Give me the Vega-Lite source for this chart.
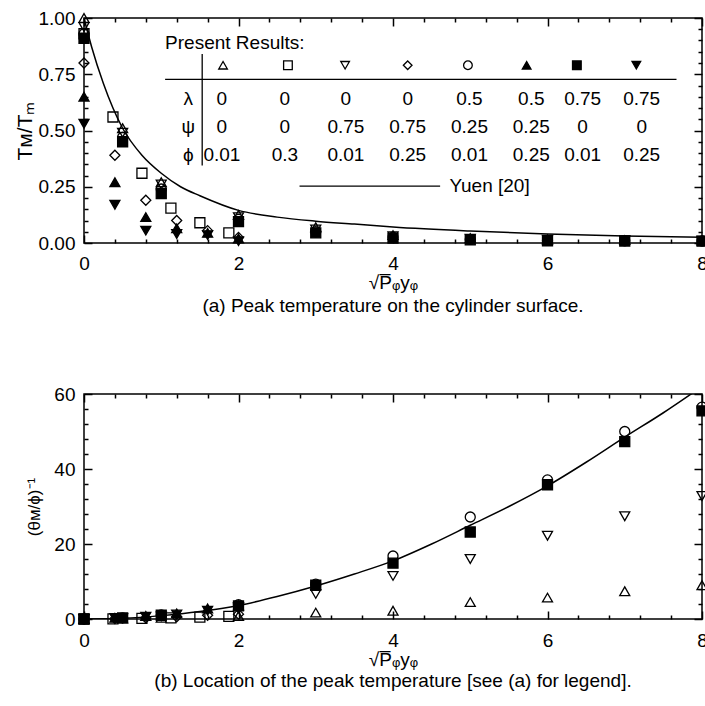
{
  "$schema": "https://vega.github.io/schema/vega-lite/v6.json",
  "autosize": {"type": "pad"},
  "padding": {"left": 13, "top": 8, "right": 0, "bottom": 0},
  "background": "white",
  "datasets": {
    "yuenA": [
      {"x": 0, "y": 1.0}, {"x": 0.1, "y": 0.87}, {"x": 0.25, "y": 0.71}, {"x": 0.5, "y": 0.51},
      {"x": 0.75, "y": 0.39}, {"x": 1, "y": 0.31}, {"x": 1.25, "y": 0.25}, {"x": 1.5, "y": 0.21},
      {"x": 2, "y": 0.145}, {"x": 2.5, "y": 0.115}, {"x": 3, "y": 0.097}, {"x": 3.5, "y": 0.084},
      {"x": 4, "y": 0.071}, {"x": 5, "y": 0.053}, {"x": 6, "y": 0.04}, {"x": 7, "y": 0.031}, {"x": 8, "y": 0.025}
    ],
    "yuenB": [
      {"x": 0, "y": 0}, {"x": 0.5, "y": 0.2}, {"x": 1, "y": 0.9}, {"x": 1.5, "y": 2.0},
      {"x": 2, "y": 3.6}, {"x": 2.5, "y": 6.0}, {"x": 3, "y": 8.8}, {"x": 3.5, "y": 12.0},
      {"x": 4, "y": 15.5}, {"x": 4.5, "y": 20.0}, {"x": 5, "y": 25.0}, {"x": 5.5, "y": 30.0},
      {"x": 6, "y": 35.5}, {"x": 6.5, "y": 41.8}, {"x": 7, "y": 48.5}, {"x": 7.5, "y": 55.0}, {"x": 8, "y": 62.0}
    ],
    "pointsA": [
      {"case": "c1", "x": 0, "y": 1.0}, {"case": "c1", "x": 0.5, "y": 0.51}, {"case": "c1", "x": 1, "y": 0.27}, {"case": "c1", "x": 2, "y": 0.125}, {"case": "c1", "x": 3, "y": 0.07}, {"case": "c1", "x": 4, "y": 0.035}, {"case": "c1", "x": 5, "y": 0.022}, {"case": "c1", "x": 6, "y": 0.016}, {"case": "c1", "x": 7, "y": 0.013}, {"case": "c1", "x": 8, "y": 0.011},
      {"case": "c3", "x": 0, "y": 0.96}, {"case": "c3", "x": 0.5, "y": 0.49}, {"case": "c3", "x": 1, "y": 0.26}, {"case": "c3", "x": 2, "y": 0.115}, {"case": "c3", "x": 3, "y": 0.06}, {"case": "c3", "x": 4, "y": 0.03}, {"case": "c3", "x": 5, "y": 0.019}, {"case": "c3", "x": 6, "y": 0.014}, {"case": "c3", "x": 7, "y": 0.012}, {"case": "c3", "x": 8, "y": 0.01},
      {"case": "c5", "x": 0, "y": 0.93}, {"case": "c5", "x": 0.5, "y": 0.47}, {"case": "c5", "x": 1, "y": 0.24}, {"case": "c5", "x": 2, "y": 0.105}, {"case": "c5", "x": 3, "y": 0.05}, {"case": "c5", "x": 4, "y": 0.026}, {"case": "c5", "x": 5, "y": 0.016}, {"case": "c5", "x": 6, "y": 0.012}, {"case": "c5", "x": 7, "y": 0.01}, {"case": "c5", "x": 8, "y": 0.009},
      {"case": "c7", "x": 0, "y": 0.91}, {"case": "c7", "x": 0.5, "y": 0.45}, {"case": "c7", "x": 1, "y": 0.22}, {"case": "c7", "x": 2, "y": 0.095}, {"case": "c7", "x": 3, "y": 0.045}, {"case": "c7", "x": 4, "y": 0.022}, {"case": "c7", "x": 5, "y": 0.014}, {"case": "c7", "x": 6, "y": 0.01}, {"case": "c7", "x": 7, "y": 0.009}, {"case": "c7", "x": 8, "y": 0.008},
      {"case": "c2", "x": 0, "y": 0.93}, {"case": "c2", "x": 0.375, "y": 0.56}, {"case": "c2", "x": 0.75, "y": 0.31}, {"case": "c2", "x": 1.125, "y": 0.155}, {"case": "c2", "x": 1.5, "y": 0.09}, {"case": "c2", "x": 1.875, "y": 0.045},
      {"case": "c4", "x": 0, "y": 0.8}, {"case": "c4", "x": 0.4, "y": 0.39}, {"case": "c4", "x": 0.8, "y": 0.19}, {"case": "c4", "x": 1.2, "y": 0.1}, {"case": "c4", "x": 1.6, "y": 0.055}, {"case": "c4", "x": 2, "y": 0.025},
      {"case": "c6", "x": 0, "y": 0.65}, {"case": "c6", "x": 0.4, "y": 0.27}, {"case": "c6", "x": 0.8, "y": 0.115}, {"case": "c6", "x": 1.2, "y": 0.065}, {"case": "c6", "x": 1.6, "y": 0.045}, {"case": "c6", "x": 2, "y": 0.02},
      {"case": "c8", "x": 0, "y": 0.53}, {"case": "c8", "x": 0.4, "y": 0.17}, {"case": "c8", "x": 0.8, "y": 0.055}, {"case": "c8", "x": 1.2, "y": 0.04}, {"case": "c8", "x": 1.6, "y": 0.035}, {"case": "c8", "x": 2, "y": 0.008}
    ],
    "pointsB": [
      {"case": "c1", "x": 0, "y": 0}, {"case": "c1", "x": 0.5, "y": 0.1}, {"case": "c1", "x": 1, "y": 0.3}, {"case": "c1", "x": 2, "y": 0.8}, {"case": "c1", "x": 3, "y": 1.7}, {"case": "c1", "x": 4, "y": 2.2}, {"case": "c1", "x": 5, "y": 4.5}, {"case": "c1", "x": 6, "y": 5.7}, {"case": "c1", "x": 7, "y": 7.4}, {"case": "c1", "x": 8, "y": 9.0},
      {"case": "c3", "x": 0, "y": 0}, {"case": "c3", "x": 0.5, "y": 0.2}, {"case": "c3", "x": 1, "y": 0.7}, {"case": "c3", "x": 2, "y": 2.8}, {"case": "c3", "x": 3, "y": 6.7}, {"case": "c3", "x": 4, "y": 11.5}, {"case": "c3", "x": 5, "y": 16.0}, {"case": "c3", "x": 6, "y": 22.2}, {"case": "c3", "x": 7, "y": 27.4}, {"case": "c3", "x": 8, "y": 32.8},
      {"case": "c5", "x": 0, "y": 0}, {"case": "c5", "x": 0.5, "y": 0.3}, {"case": "c5", "x": 1, "y": 1.1}, {"case": "c5", "x": 2, "y": 3.8}, {"case": "c5", "x": 3, "y": 9.3}, {"case": "c5", "x": 4, "y": 16.8}, {"case": "c5", "x": 5, "y": 27.2}, {"case": "c5", "x": 6, "y": 37.1}, {"case": "c5", "x": 7, "y": 50.0}, {"case": "c5", "x": 8, "y": 56.5},
      {"case": "c7", "x": 0, "y": 0}, {"case": "c7", "x": 0.5, "y": 0.3}, {"case": "c7", "x": 1, "y": 1.0}, {"case": "c7", "x": 2, "y": 3.5}, {"case": "c7", "x": 3, "y": 9.0}, {"case": "c7", "x": 4, "y": 14.9}, {"case": "c7", "x": 5, "y": 23.2}, {"case": "c7", "x": 6, "y": 35.8}, {"case": "c7", "x": 7, "y": 47.3}, {"case": "c7", "x": 8, "y": 55.5},
      {"case": "c2", "x": 0, "y": 0}, {"case": "c2", "x": 0.375, "y": 0.05}, {"case": "c2", "x": 0.75, "y": 0.15}, {"case": "c2", "x": 1.125, "y": 0.3}, {"case": "c2", "x": 1.5, "y": 0.5}, {"case": "c2", "x": 1.875, "y": 0.7},
      {"case": "c4", "x": 0, "y": 0}, {"case": "c4", "x": 0.4, "y": 0.1}, {"case": "c4", "x": 0.8, "y": 0.3}, {"case": "c4", "x": 1.2, "y": 0.6}, {"case": "c4", "x": 1.6, "y": 1.0}, {"case": "c4", "x": 2, "y": 1.3},
      {"case": "c6", "x": 0, "y": 0}, {"case": "c6", "x": 0.4, "y": 0.3}, {"case": "c6", "x": 0.8, "y": 0.8}, {"case": "c6", "x": 1.2, "y": 1.5}, {"case": "c6", "x": 1.6, "y": 2.8}, {"case": "c6", "x": 2, "y": 3.6},
      {"case": "c8", "x": 0, "y": 0}, {"case": "c8", "x": 0.4, "y": 0.25}, {"case": "c8", "x": 0.8, "y": 0.6}, {"case": "c8", "x": 1.2, "y": 1.2}, {"case": "c8", "x": 1.6, "y": 2.2}, {"case": "c8", "x": 2, "y": 3.2}
    ],
    "legendSymbols": [
      {"case": "c1", "x": 1.8, "y": 0.79}, {"case": "c2", "x": 2.64, "y": 0.79}, {"case": "c3", "x": 3.38, "y": 0.79}, {"case": "c4", "x": 4.19, "y": 0.79},
      {"case": "c5", "x": 4.97, "y": 0.79}, {"case": "c6", "x": 5.73, "y": 0.79}, {"case": "c7", "x": 6.38, "y": 0.79}, {"case": "c8", "x": 7.15, "y": 0.79}
    ],
    "legendCells": [
      {"x": 1.35, "y": 0.64, "text": "λ"}, {"x": 1.35, "y": 0.515, "text": "ψ"}, {"x": 1.35, "y": 0.39, "text": "ϕ"},
      {"x": 1.785, "y": 0.64, "text": "0"}, {"x": 2.6, "y": 0.64, "text": "0"}, {"x": 3.39, "y": 0.64, "text": "0"}, {"x": 4.19, "y": 0.64, "text": "0"},
      {"x": 4.99, "y": 0.64, "text": "0.5"}, {"x": 5.79, "y": 0.64, "text": "0.5"}, {"x": 6.455, "y": 0.64, "text": "0.75"}, {"x": 7.219, "y": 0.64, "text": "0.75"},
      {"x": 1.785, "y": 0.515, "text": "0"}, {"x": 2.6, "y": 0.515, "text": "0"}, {"x": 3.39, "y": 0.515, "text": "0.75"}, {"x": 4.19, "y": 0.515, "text": "0.75"},
      {"x": 4.99, "y": 0.515, "text": "0.25"}, {"x": 5.79, "y": 0.515, "text": "0.25"}, {"x": 6.455, "y": 0.515, "text": "0"}, {"x": 7.219, "y": 0.515, "text": "0"},
      {"x": 1.785, "y": 0.39, "text": "0.01"}, {"x": 2.6, "y": 0.39, "text": "0.3"}, {"x": 3.39, "y": 0.39, "text": "0.01"}, {"x": 4.19, "y": 0.39, "text": "0.25"},
      {"x": 4.99, "y": 0.39, "text": "0.01"}, {"x": 5.79, "y": 0.39, "text": "0.25"}, {"x": 6.455, "y": 0.39, "text": "0.01"}, {"x": 7.219, "y": 0.39, "text": "0.25"}
    ],
    "legendLeft": [
      {"x": 1.05, "y": 0.889, "text": "Present Results:"},
      {"x": 4.73, "y": 0.253, "text": "Yuen [20]"}
    ],
    "legendRules": [
      {"x": 1.05, "x2": 7.67, "y": 0.727, "y2": 0.727},
      {"x": 1.53, "x2": 1.53, "y": 0.84, "y2": 0.345},
      {"x": 2.79, "x2": 4.61, "y": 0.253, "y2": 0.253}
    ]
  },
  "vconcat": [
    {
      "width": 618,
      "height": 225,
      "title": {"text": "(a) Peak temperature on the cylinder surface.", "orient": "bottom", "anchor": "middle", "fontSize": 19, "fontWeight": "normal", "font": "Liberation Sans", "color": "black", "offset": 5},
      "layer": [
        {
          "data": {"name": "yuenA"},
          "mark": {"type": "line", "color": "black", "strokeWidth": 1.5, "interpolate": "monotone"},
          "encoding": {
            "x": {"field": "x", "type": "quantitative", "scale": {"domain": [0, 8], "nice": false},
              "axis": {"orient": "top", "values": [0,2,4,6,8], "labels": false, "title": null, "offset": -8, "tickSize": 8}},
            "y": {"field": "y", "type": "quantitative", "scale": {"domain": [0, 1], "nice": false},
              "axis": {"orient": "right", "values": [0,0.25,0.5,0.75,1], "labels": false, "title": null, "offset": -8, "tickSize": 8}}
          }
        },
        {
          "data": {"name": "pointsA"},
          "mark": {"type": "point", "filled": true, "stroke": "black", "strokeWidth": 1.3, "size": 100, "opacity": 1},
          "encoding": {
            "x": {"field": "x", "type": "quantitative",
              "axis": {"orient": "bottom", "values": [0,2,4,6,8], "format": "d", "offset": -8, "tickSize": 8,
                "labelPadding": 11, "title": "√P̅ᵩyᵩ", "titleFontSize": 19, "titlePadding": 0}},
            "y": {"field": "y", "type": "quantitative",
              "axis": {"orient": "left", "values": [0,0.25,0.5,0.75,1], "format": ".2f", "offset": -8, "tickSize": 8,
                "labelPadding": 9, "title": "Tᴍ/Tₘ", "titleFontSize": 21, "titlePadding": 3}},
            "shape": {"field": "case", "type": "nominal", "legend": null,
              "scale": {"domain": ["c1","c2","c3","c4","c5","c6","c7","c8"], "range": ["triangle-up","square","triangle-down","diamond","circle","triangle-up","square","triangle-down"]}},
            "fill": {"field": "case", "type": "nominal", "legend": null,
              "scale": {"domain": ["c1","c2","c3","c4","c5","c6","c7","c8"], "range": ["transparent","transparent","transparent","transparent","transparent","black","black","black"]}}
          }
        },
        {
          "data": {"name": "legendSymbols"},
          "mark": {"type": "point", "filled": true, "stroke": "black", "strokeWidth": 1.3, "size": 75, "opacity": 1},
          "encoding": {
            "x": {"field": "x", "type": "quantitative",
              "axis": {"orient": "top", "values": [0.4,0.8,1.2,1.6,2.4,2.8,3.2,3.6,4.4,4.8,5.2,5.6,6.4,6.8,7.2,7.6], "labels": false, "title": null, "offset": -4, "tickSize": 4}},
            "y": {"field": "y", "type": "quantitative",
              "axis": {"orient": "right", "values": [0.05,0.1,0.15,0.2,0.3,0.35,0.4,0.45,0.55,0.6,0.65,0.7,0.8,0.85,0.9,0.95], "labels": false, "title": null, "offset": -4, "tickSize": 4}},
            "shape": {"field": "case", "type": "nominal", "legend": null},
            "fill": {"field": "case", "type": "nominal", "legend": null}
          }
        },
        {
          "data": {"name": "legendRules"},
          "mark": {"type": "rule", "color": "black", "strokeWidth": 1.3},
          "encoding": {
            "x": {"field": "x", "type": "quantitative",
              "axis": {"orient": "bottom", "values": [0.4,0.8,1.2,1.6,2.4,2.8,3.2,3.6,4.4,4.8,5.2,5.6,6.4,6.8,7.2,7.6], "labels": false, "title": null, "offset": -4, "tickSize": 4}},
            "x2": {"field": "x2"},
            "y": {"field": "y", "type": "quantitative",
              "axis": {"orient": "left", "values": [0.05,0.1,0.15,0.2,0.3,0.35,0.4,0.45,0.55,0.6,0.65,0.7,0.8,0.85,0.9,0.95], "labels": false, "title": null, "offset": -4, "tickSize": 4}},
            "y2": {"field": "y2"}
          }
        },
        {
          "data": {"name": "legendCells"},
          "mark": {"type": "text", "align": "center", "baseline": "middle", "font": "Liberation Sans", "fontSize": 19, "color": "black"},
          "encoding": {
            "x": {"field": "x", "type": "quantitative", "axis": null},
            "y": {"field": "y", "type": "quantitative", "axis": null},
            "text": {"field": "text"}
          }
        },
        {
          "data": {"name": "legendLeft"},
          "mark": {"type": "text", "align": "left", "baseline": "middle", "font": "Liberation Sans", "fontSize": 19, "color": "black"},
          "encoding": {
            "x": {"field": "x", "type": "quantitative", "axis": null},
            "y": {"field": "y", "type": "quantitative", "axis": null},
            "text": {"field": "text"}
          }
        }
      ],
      "resolve": {"axis": {"x": "independent", "y": "independent"}}
    },
    {
      "width": 618,
      "height": 225,
      "title": {"text": "(b) Location of the peak temperature [see (a) for legend].", "orient": "bottom", "anchor": "middle", "fontSize": 19, "fontWeight": "normal", "font": "Liberation Sans", "color": "black", "offset": 3},
      "layer": [
        {
          "data": {"name": "yuenB"},
          "mark": {"type": "line", "color": "black", "strokeWidth": 1.5, "interpolate": "monotone", "clip": true},
          "encoding": {
            "x": {"field": "x", "type": "quantitative", "scale": {"domain": [0, 8], "nice": false},
              "axis": {"orient": "top", "values": [0,2,4,6,8], "labels": false, "title": null, "offset": -8, "tickSize": 8}},
            "y": {"field": "y", "type": "quantitative", "scale": {"domain": [0, 60], "nice": false},
              "axis": {"orient": "right", "values": [0,20,40,60], "labels": false, "title": null, "offset": -8, "tickSize": 8}}
          }
        },
        {
          "data": {"name": "pointsB"},
          "transform": [{"filter": {"field": "case", "oneOf": ["c1", "c3", "c5"]}}],
          "mark": {"type": "point", "filled": true, "stroke": "black", "strokeWidth": 1.3, "size": 100, "opacity": 1},
          "encoding": {
            "x": {"field": "x", "type": "quantitative",
              "axis": {"orient": "bottom", "values": [0,2,4,6,8], "format": "d", "offset": -8, "tickSize": 8,
                "labelPadding": 12, "title": "√P̅ᵩyᵩ", "titleFontSize": 19, "titlePadding": 0}},
            "y": {"field": "y", "type": "quantitative",
              "axis": {"orient": "left", "values": [0,20,40,60], "format": "d", "offset": -8, "tickSize": 8,
                "labelPadding": 9, "title": "(θᴍ/ϕ)⁻¹", "titleFontSize": 17, "titlePadding": 10}},
            "shape": {"field": "case", "type": "nominal", "legend": null,
              "scale": {"domain": ["c1","c2","c3","c4","c5","c6","c7","c8"], "range": ["triangle-up","square","triangle-down","diamond","circle","triangle-up","square","triangle-down"]}},
            "fill": {"field": "case", "type": "nominal", "legend": null,
              "scale": {"domain": ["c1","c2","c3","c4","c5","c6","c7","c8"], "range": ["transparent","transparent","transparent","transparent","transparent","black","black","black"]}}
          }
        },
        {
          "data": {"name": "pointsB"},
          "transform": [{"filter": {"field": "case", "oneOf": ["c2", "c4"]}}],
          "mark": {"type": "point", "filled": true, "stroke": "black", "strokeWidth": 1.3, "size": 100, "opacity": 1},
          "encoding": {
            "x": {"field": "x", "type": "quantitative",
              "axis": {"orient": "top", "values": [0.4,0.8,1.2,1.6,2.4,2.8,3.2,3.6,4.4,4.8,5.2,5.6,6.4,6.8,7.2,7.6], "labels": false, "title": null, "offset": -4, "tickSize": 4}},
            "y": {"field": "y", "type": "quantitative",
              "axis": {"orient": "right", "values": [4,8,12,16,24,28,32,36,44,48,52,56], "labels": false, "title": null, "offset": -4, "tickSize": 4}},
            "shape": {"field": "case", "type": "nominal", "legend": null},
            "fill": {"field": "case", "type": "nominal", "legend": null}
          }
        },
        {
          "data": {"name": "pointsB"},
          "transform": [{"filter": {"field": "case", "oneOf": ["c6", "c7", "c8"]}}],
          "mark": {"type": "point", "filled": true, "stroke": "black", "strokeWidth": 1.3, "size": 100, "opacity": 1},
          "encoding": {
            "x": {"field": "x", "type": "quantitative",
              "axis": {"orient": "bottom", "values": [0.4,0.8,1.2,1.6,2.4,2.8,3.2,3.6,4.4,4.8,5.2,5.6,6.4,6.8,7.2,7.6], "labels": false, "title": null, "offset": -4, "tickSize": 4}},
            "y": {"field": "y", "type": "quantitative",
              "axis": {"orient": "left", "values": [4,8,12,16,24,28,32,36,44,48,52,56], "labels": false, "title": null, "offset": -4, "tickSize": 4}},
            "shape": {"field": "case", "type": "nominal", "legend": null},
            "fill": {"field": "case", "type": "nominal", "legend": null}
          }
        }
      ],
      "resolve": {"axis": {"x": "independent", "y": "independent"}}
    }
  ],
  "spacing": 151,
  "bounds": "flush",
  "config": {
    "view": {"stroke": "black", "strokeWidth": 1.5},
    "axis": {"grid": false, "domain": false, "ticks": true, "tickOpacity": 1, "zindex": 1, "labelFont": "Liberation Sans", "labelFontSize": 19, "labelColor": "black",
      "titleFont": "Liberation Sans", "titleFontWeight": "normal", "titleColor": "black", "tickColor": "black", "tickWidth": 1.5, "labelOverlap": false, "labelFlush": false}
  }
}
